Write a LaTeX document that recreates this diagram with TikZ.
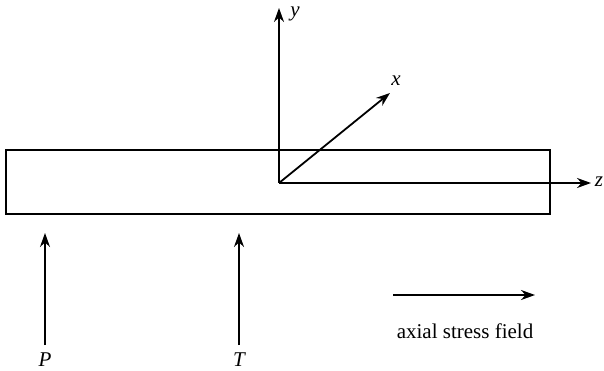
\documentclass[tikz,border=0pt]{standalone}
\usepackage{fontspec}
\setmainfont{Liberation Serif}
\usepackage{tikz}
\usetikzlibrary{arrows.meta, positioning, calc}
\tikzset{
    % Bar
    barbox/.style={rectangle, draw=black, line width=1.8pt, minimum width=544pt,
                minimum height=64pt, inner sep=0pt},
    % Axes
    axarrow/.style={-{Stealth[length=14pt, width=10pt]}, line width=1.8pt},
    axlbl/.style={font=\fontsize{21}{24}\selectfont\itshape, inner sep=0pt},
    % Loads
    ldarrow/.style={-{Stealth[length=14pt, width=10pt]}, line width=1.8pt},
    ldlbl/.style={font=\fontsize{21}{24}\selectfont, inner sep=0pt},
}
\begin{document}
\begin{tikzpicture}[x=1pt, y=-1pt]
\useasboundingbox (0,0) rectangle (604,371);

\node[barbox] (bar) at (278,182) {};

% axes
\coordinate (O)    at (279,183);
\coordinate (ytip) at (279,8);
\coordinate (xtip) at (390,93);
\coordinate (ztip) at (591,183);
\draw[axarrow] (O) -- (ytip);
\draw[axarrow] (O) -- (xtip);
\draw[axarrow] (O) -- (ztip);
\node[axlbl] (ylbl) at (295,14)  {y};
\node[axlbl] (xlbl) at (396,81)  {x};
\node[axlbl] (zlbl) at (599,182) {z};

% loads
\coordinate (Pbot) at (45,345);
\coordinate (Ptop) at (45,233);
\coordinate (Tbot) at (239,345);
\coordinate (Ttop) at (239,233);
\draw[ldarrow] (Pbot) -- (Ptop);
\draw[ldarrow] (Tbot) -- (Ttop);
\node[axlbl] (Plbl) at (45,360)  {P};
\node[axlbl] (Tlbl) at (239,360) {T};

% stress field
\coordinate (sfrom) at (393,295);
\coordinate (sto)   at (535,295);
\draw[ldarrow] (sfrom) -- (sto);
\node[ldlbl] (slbl) at (465,331) {axial stress field};
\end{tikzpicture}
\end{document}
